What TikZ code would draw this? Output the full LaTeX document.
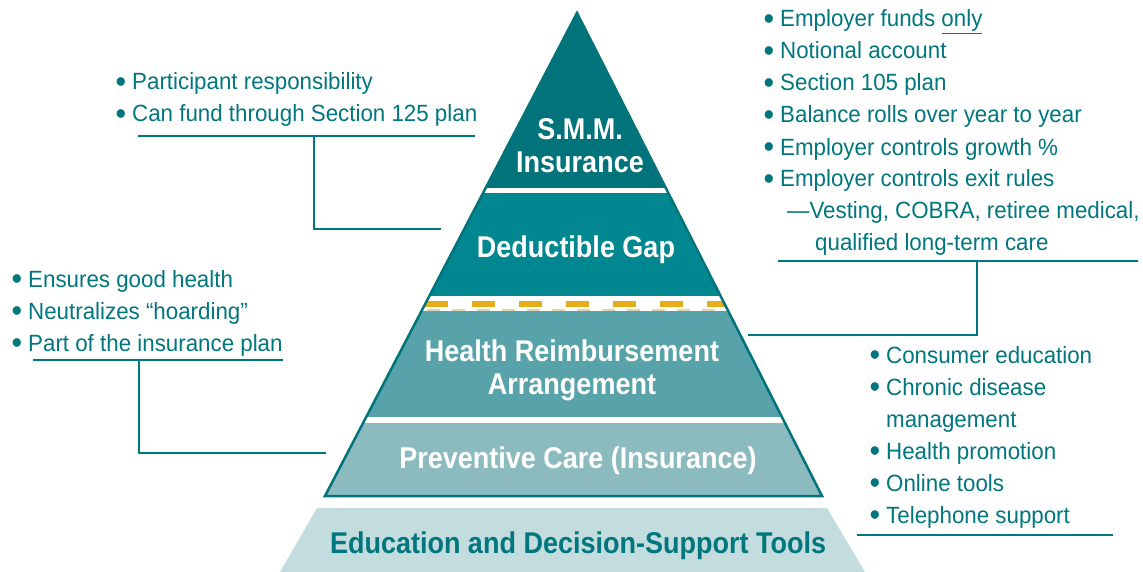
\documentclass[tikz,border=0pt]{standalone}
\usepackage{fontspec}
\setmainfont{Liberation Sans}[FakeStretch=0.95]
\newfontfamily\layerfont{Liberation Sans}[FakeStretch=0.90]
\usetikzlibrary{calc}

\definecolor{smmteal}{HTML}{00737B}
\definecolor{gapteal}{HTML}{00878F}
\definecolor{hrateal}{HTML}{57A3A9}
\definecolor{prevteal}{HTML}{8CBBBF}
\definecolor{baseteal}{HTML}{C3DDDE}
\definecolor{inkteal}{HTML}{00767E}
\definecolor{dashgold}{HTML}{E6AC1A}
\definecolor{dashtan}{HTML}{E3D4B0}

\def\bul{\llap{\raisebox{-2.5pt}{\scalebox{1.35}{\textbullet}}\hspace{6pt}}}

\tikzset{
	notes/.style={inner sep=0pt, anchor=base west, align=left, text=inkteal, font=\fontsize{23.5}{32}\selectfont},
	layer/.style={inner sep=0pt, anchor=base, align=center, font=\layerfont\bfseries\fontsize{30}{33}\selectfont},
	leader/.style={draw=inkteal, line width=1.6pt}
}

\begin{document}
\begin{tikzpicture}[x=1pt, y=-1pt]
			%%%%% START %%%%%
			\useasboundingbox (0, 0) rectangle (1143, 572);
			
			\coordinate (apex) at (577, 13);
			\coordinate (botleft) at (325, 496);
			\coordinate (botright) at (822, 496);
			
			% base
			\fill[baseteal] (317, 508) -- (827, 508) -- (865, 572) -- (280, 572) -- cycle;
			
			% layers of the pyramid
			\begin{scope}
				\clip (apex) -- (botright) -- (botleft) -- cycle;
				\fill[smmteal] (300, 0) rectangle (850, 188);
				\fill[white] (300, 188) rectangle (850, 193);
				\fill[gapteal] (300, 193) rectangle (850, 296);
				\fill[white] (300, 296) rectangle (850, 311);
				\fill[hrateal] (300, 311) rectangle (850, 417);
				\fill[white] (300, 417) rectangle (850, 423);
				\fill[prevteal] (300, 423) rectangle (850, 496);
				
				\draw[line width=6.5pt, color=dashgold, dash pattern=on 22.5pt off 24.5pt] (425, 304) -- (735, 304);
				\draw[line width=2pt, color=dashtan, dash pattern=on 13pt off 12pt] (427, 309.5) -- (735, 309.5);
			\end{scope}
			\draw[line width=2.5pt, color=smmteal, line join=miter] (apex) -- (botright) -- (botleft) -- cycle;
			
			% anchor base = last line
			\node[layer, text=white] (smm) at (580, 173) {S.M.M.\\Insurance};
			\node[layer, text=white] (gap) at (576, 257) {Deductible Gap};
			\node[layer, text=white] (hra) at (572, 394) {Health Reimbursement\\Arrangement};
			\node[layer, text=white] (prev) at (578, 468) {Preventive Care (Insurance)};
			\node[layer, text=inkteal] (tools) at (578, 553) {Education and Decision-Support Tools};
			
			% notes
			\node[notes] (gapnotes) at (132, 122) {\bul Participant responsibility\\\bul Can fund through Section 125 plan};
			\node[notes] (hranotes) at (780, 251) {\bul Employer funds \underline{only}\\\bul Notional account\\\bul Section 105 plan\\\bul Balance rolls over year to year\\\bul Employer controls growth \%\\\bul Employer controls exit rules\\\hspace{7pt}—Vesting, COBRA, retiree medical,\\\hspace{35pt}qualified long-term care};
			\node[notes] (prevnotes) at (28, 351) {\bul Ensures good health\\\bul Neutralizes “hoarding”\\\bul Part of the insurance plan};
			\node[notes] (toolnotes) at (886, 523) {\bul Consumer education\\\bul Chronic disease\\management\\\bul Health promotion\\\bul Online tools\\\bul Telephone support};
			
			% leaders
			\coordinate (gapend) at (441, 229);
			\coordinate (hraend) at (748, 335);
			\coordinate (prevend) at (326, 453);
			
			\draw[leader] (138, 136) -- (475, 136);
			\draw[leader] (314, 136) |- (gapend);
			\draw[leader] (778, 261) -- (1138, 261);
			\draw[leader] (977, 261) |- (hraend);
			\draw[leader] (33, 360) -- (283, 360);
			\draw[leader] (139, 360) |- (prevend);
			\draw[leader] (857, 535) -- (1113, 535);
			
			%%%%% END %%%%%
\end{tikzpicture}
\end{document}
